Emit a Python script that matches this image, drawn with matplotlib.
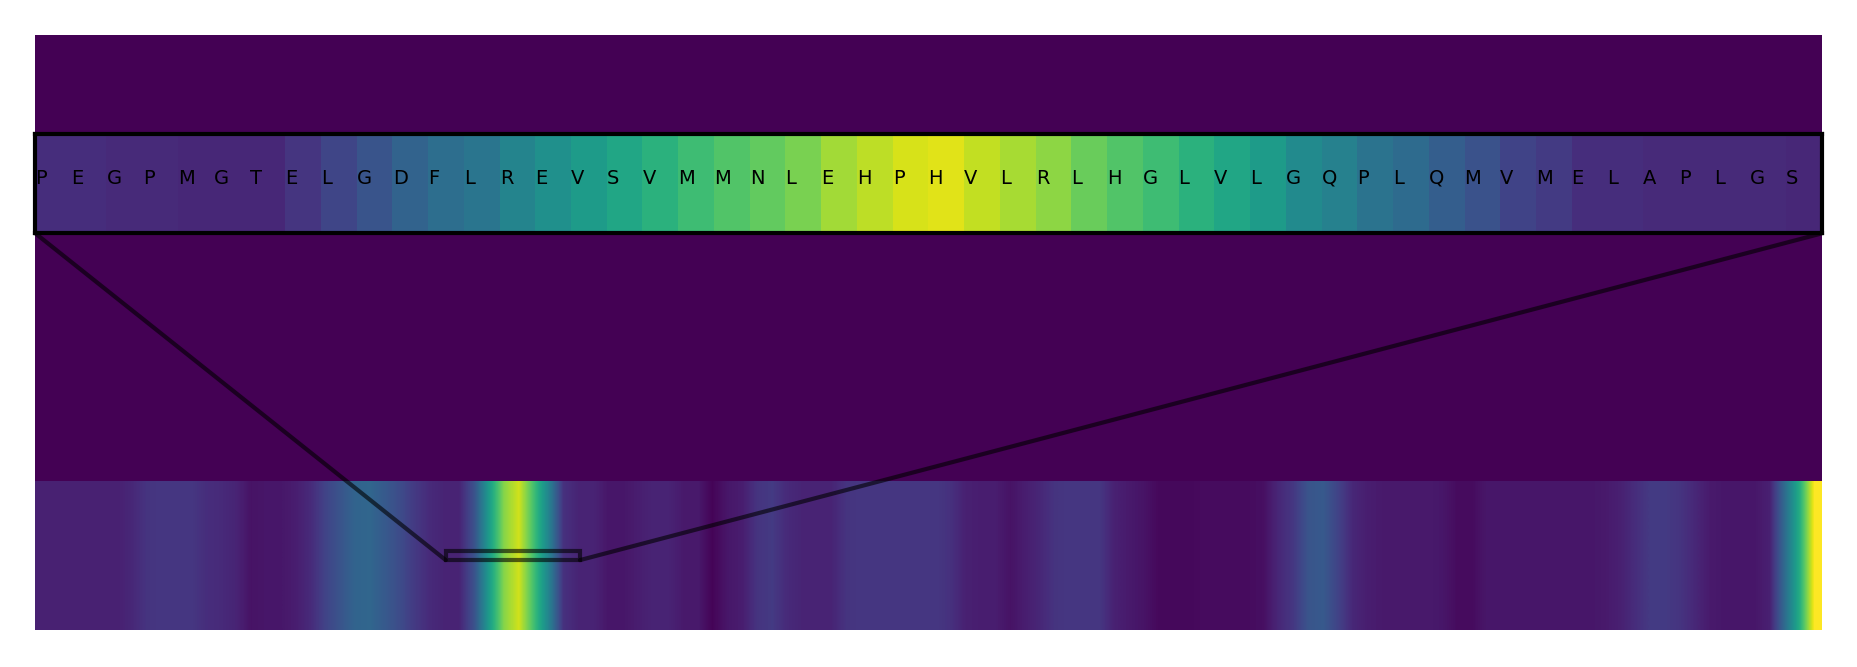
import numpy as np
import matplotlib
matplotlib.use("Agg")
import matplotlib.pyplot as plt
from matplotlib.patches import Rectangle, ConnectionPatch

# full protein length and start of the zoomed window
seq_len = 666
zoom_start = 153
zoom_ylim = (0.47, 0.53)

# residues shown in the zoomed window and their per-residue score
residues = list("PEGPMGTELGDFLREVSVMMNLEHPHVLRLHGLVLGQPLQMVMELAPLGS")
residue_scores = [0.13, 0.13, 0.12, 0.12, 0.11, 0.11, 0.11, 0.155, 0.21, 0.26,
                  0.32, 0.36, 0.39, 0.45, 0.50, 0.55, 0.59, 0.64, 0.69, 0.73,
                  0.76, 0.80, 0.86, 0.90, 0.94, 0.955, 0.91, 0.87, 0.83, 0.77,
                  0.73, 0.69, 0.64, 0.59, 0.55, 0.48, 0.44, 0.38, 0.35, 0.30,
                  0.25, 0.20, 0.17, 0.13, 0.13, 0.12, 0.12, 0.12, 0.12, 0.11]

# coarse score track along the whole sequence (evenly spaced samples)
track_scores = [0.09, 0.09, 0.09, 0.09, 0.09, 0.09, 0.11, 0.15, 0.16, 0.16,
                0.16, 0.13, 0.12, 0.10, 0.05, 0.06, 0.06, 0.08, 0.12, 0.20,
                0.26, 0.32, 0.33, 0.28, 0.23, 0.17, 0.12, 0.10, 0.10, 0.25,
                0.55, 0.82, 0.93, 0.70, 0.45, 0.14, 0.10, 0.10, 0.06, 0.06,
                0.08, 0.10, 0.10, 0.07, 0.07, 0.01, 0.06, 0.08, 0.15, 0.17,
                0.12, 0.10, 0.10, 0.10, 0.15, 0.16, 0.16, 0.16, 0.16, 0.16,
                0.16, 0.14, 0.09, 0.08, 0.08, 0.05, 0.08, 0.11, 0.15, 0.16,
                0.16, 0.16, 0.09, 0.07, 0.05, 0.02, 0.02, 0.02, 0.03, 0.03,
                0.03, 0.03, 0.04, 0.11, 0.16, 0.26, 0.28, 0.20, 0.11, 0.08,
                0.07, 0.07, 0.07, 0.07, 0.06, 0.03, 0.03, 0.06, 0.06, 0.06,
                0.06, 0.06, 0.06, 0.06, 0.06, 0.07, 0.09, 0.13, 0.17, 0.17,
                0.15, 0.11, 0.07, 0.06, 0.06, 0.06, 0.09, 0.35, 0.62, 1.00]

cmap = plt.get_cmap("viridis")

fig = plt.figure(figsize=(18.57, 6.67), dpi=100)
ax = fig.add_axes([0.0191, 0.0555, 0.9618, 0.8913])
ax.set_facecolor(cmap(0.0))
ax.imshow(np.array(track_scores)[None, :], cmap=cmap, vmin=0, vmax=1,
          aspect="auto", interpolation="bilinear",
          extent=(0, seq_len, 0, 1))
ax.set_xlim(0, seq_len)
ax.set_ylim(0, 4)
ax.set_xticks([])
ax.set_yticks([])
for sp in ax.spines.values():
    sp.set_visible(False)

# zoomed view of the window with residue letters
zoom_end = zoom_start + len(residues)
axins = ax.inset_axes([0, 0.667, 1, 0.168])
axins.imshow(np.array(residue_scores)[None, :], cmap=cmap, vmin=0, vmax=1,
             aspect="auto", interpolation="nearest",
             extent=(zoom_start, zoom_end, zoom_ylim[0], zoom_ylim[1]))
for i, res in enumerate(residues):
    axins.text(zoom_start + i, 0.5, res, ha="left", va="baseline",
               fontsize=14, color="black")
axins.set_xlim(zoom_start, zoom_end)
axins.set_ylim(*zoom_ylim)
axins.set_xticks([])
axins.set_yticks([])
for sp in axins.spines.values():
    sp.set_linewidth(3)
    sp.set_color("black")

# zoom indicator: box on the track plus two connector lines
style = dict(color="black", linewidth=3, alpha=0.6)
ax.add_patch(Rectangle((zoom_start, zoom_ylim[0]), zoom_end - zoom_start,
                       zoom_ylim[1] - zoom_ylim[0], fill=False, zorder=4,
                       edgecolor="black", linewidth=3, alpha=0.6))
for x_data, x_ins in [(zoom_start, 0), (zoom_end, 1)]:
    con = ConnectionPatch(xyA=(x_data, zoom_ylim[0]), coordsA=ax.transData,
                          xyB=(x_ins, 0), coordsB=axins.transAxes, **style)
    ax.add_artist(con)

fig.savefig("out.png", dpi=100)
